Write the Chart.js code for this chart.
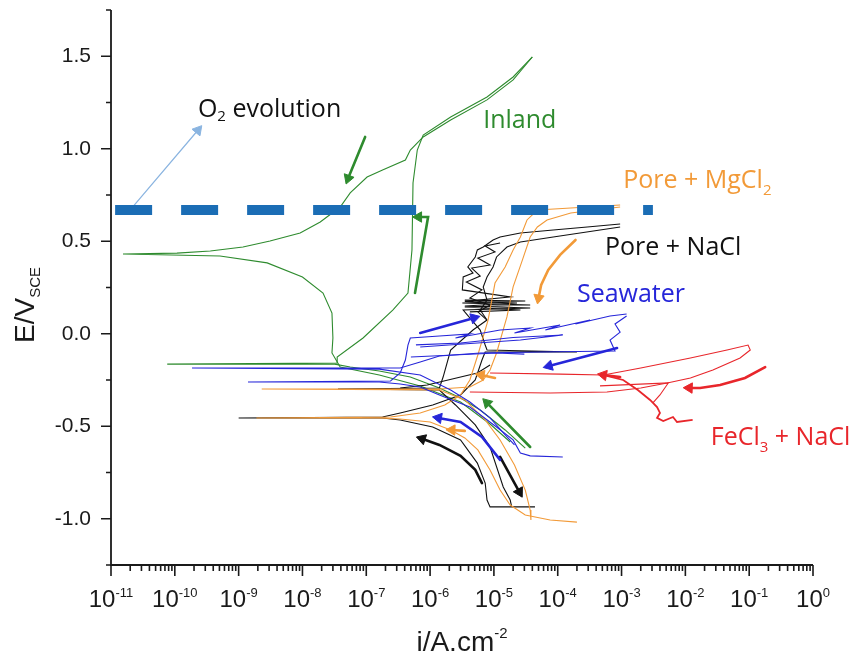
<!DOCTYPE html>
<html>
<head>
<meta charset="utf-8">
<script src="https://cdn.jsdelivr.net/npm/chart.js@4.4.0/dist/chart.umd.js"></script>
<style>
    html, body { margin: 0; padding: 0; background: #fff; }
    canvas { display: block; }
</style>
</head>
<body>
<canvas id="chart" width="865" height="659"></canvas>
<script>
// axes
const xDecades = [1e-11, 1e-10, 1e-9, 1e-8, 1e-7, 1e-6, 1e-5, 1e-4, 1e-3, 1e-2, 1e-1, 1];
const xExponents = ['-11', '-10', '-9', '-8', '-7', '-6', '-5', '-4', '-3', '-2', '-1', '0'];
const xMinorFactors = [2, 3, 4, 5, 6, 7, 8, 9];
const yMajor = [-1.0, -0.5, 0, 0.5, 1.0, 1.5];
const yMajorLabels = ['-1.0', '-0.5', '0.0', '0.5', '1.0', '1.5'];
const yMinor = [-1.25, -0.75, -0.25, 0.25, 0.75, 1.25, 1.75];

// [i (A/cm2), E (V vs SCE)]
const o2Line = [[1.16e-11, 0.669], [3.1e-3, 0.669]];
const o2Pointer = [[2.0e-11, 0.669], [2.3e-10, 1.10]];

const inlandForward = [[3.1e-5, -0.618], [1.5e-5, -0.52], [6.1e-6, -0.412], [3.0e-6, -0.347], [1.4e-6, -0.293],
    [4.9e-7, -0.234], [1.6e-7, -0.201], [5.6e-8, -0.18], [3.2e-8, -0.164], [7.6e-11, -0.164], [3.5e-8, -0.158],
    [3.5e-8, -0.126], [8.9e-8, -0.023], [2.6e-7, 0.128], [4.5e-7, 0.22], [5.2e-7, 0.453], [5.4e-7, 0.815],
    [6.3e-7, 0.993], [7.8e-7, 1.074], [2.1e-6, 1.172], [7.8e-6, 1.28], [2.0e-5, 1.388], [4.0e-5, 1.496]];
const inlandReverse = [[4.0e-5, 1.496], [2.0e-5, 1.372], [7.8e-6, 1.264], [2.1e-6, 1.155], [7.8e-7, 1.064],
    [4.9e-7, 0.993], [4.1e-7, 0.939], [1.8e-7, 0.885], [1.03e-7, 0.847], [5.6e-8, 0.761], [3.9e-8, 0.685],
    [1.9e-8, 0.604], [9.2e-9, 0.545], [3.1e-9, 0.501], [1.17e-9, 0.469], [3.6e-10, 0.447], [1.08e-10, 0.436],
    [1.54e-11, 0.431], [5.1e-10, 0.42], [2.8e-9, 0.383], [1.0e-8, 0.307], [2.1e-8, 0.22], [2.9e-8, 0.112],
    [3.0e-8, -0.023], [2.9e-8, -0.104], [3.9e-8, -0.18], [1.6e-7, -0.223], [7.0e-7, -0.282], [3.0e-6, -0.369],
    [8.7e-6, -0.488], [1.8e-5, -0.585]];
const inlandArrowTop = [[9.6e-8, 1.064], [5.2e-8, 0.84]];
const inlandArrowMid = [[5.8e-7, 0.22], [9.3e-7, 0.631], [6.6e-7, 0.631]];
const inlandArrowLow = [[3.7e-5, -0.612], [7.8e-6, -0.374]];

const nacl1Forward = [[4.4e-5, -0.936], [8.7e-6, -0.936], [7.8e-6, -0.899], [7.3e-6, -0.807], [5.5e-6, -0.699],
    [3.0e-6, -0.574], [1.1e-6, -0.504], [3.4e-7, -0.466], [1.8e-7, -0.455], [1.0e-9, -0.455], [1.8e-7, -0.45],
    [3.4e-7, -0.428], [1.1e-6, -0.385], [3.0e-6, -0.331], [5.1e-6, -0.25], [6.5e-6, -0.142], [7.3e-6, -0.099],
    [2.0e-4, -0.099], [7.8e-6, -0.088], [7.3e-6, -0.061], [6.1e-6, 0.02], [3.3e-6, 0.128], [3.7e-5, 0.139],
    [3.5e-6, 0.15], [2.3e-5, 0.166], [3.5e-6, 0.175], [1.8e-5, 0.199], [3.2e-6, 0.237], [3.3e-6, 0.307],
    [4.7e-6, 0.328], [3.9e-6, 0.361], [5.1e-6, 0.415], [5.5e-6, 0.453], [6.8e-6, 0.469], [9.7e-6, 0.507],
    [1.25e-5, 0.523], [2.6e-5, 0.545], [8.5e-5, 0.561], [2.9e-4, 0.577], [9.5e-4, 0.593]];
const nacl1Reverse = [[9.5e-4, 0.577], [8.5e-5, 0.523], [2.6e-5, 0.496], [1.6e-5, 0.469], [1.1e-5, 0.415],
    [9.7e-6, 0.361], [7.8e-6, 0.307], [6.8e-6, 0.253], [7.8e-6, 0.182], [6.1e-6, 0.128], [7.8e-6, 0.074],
    [4.7e-6, 0.02], [2.1e-6, -0.088], [1.6e-6, -0.234], [1.4e-6, -0.293], [3.6e-8, -0.299], [1.4e-6, -0.304],
    [2.5e-6, -0.385], [5.1e-6, -0.493], [8.7e-6, -0.612], [1.4e-5, -0.828], [1.8e-5, -0.899], [1.9e-5, -0.936]];
const nacl1Noise = [[7.8e-6, 0.074], [5.6e-6, 0.118], [8.7e-6, 0.155], [4.2e-6, 0.193], [6.5e-6, 0.237],
    [3.7e-6, 0.28], [6.1e-6, 0.312], [4.5e-6, 0.355], [8.7e-6, 0.372], [5.6e-6, 0.409], [1.04e-5, 0.442],
    [7.3e-6, 0.474], [1.25e-5, 0.491]];
const nacl1Spikes = [[3.5e-6, 0.182], [3.1e-5, 0.177], [3.2e-6, 0.166], [3.7e-5, 0.155], [3.5e-6, 0.145],
    [2.6e-5, 0.128], [4.2e-6, 0.118]];
const nacl1Branch = [[3.4e-7, -0.293], [9.0e-7, -0.277], [5.5e-6, -0.212], [8.7e-6, -0.169]];
const naclArrowA = [[6.5e-6, -0.807], [5.1e-6, -0.736], [3.0e-6, -0.66], [1.4e-6, -0.601], [7.5e-7, -0.568]];
const naclArrowB = [[1.25e-5, -0.666], [2.5e-5, -0.855]];

const mgForward = [[2.0e-4, -1.018], [7.6e-5, -1.007], [3.1e-5, -0.98], [1.8e-5, -0.926], [1.25e-5, -0.845],
    [8.7e-6, -0.736], [5.6e-6, -0.628], [3.5e-6, -0.563], [2.1e-6, -0.52], [1.0e-6, -0.477], [3.4e-7, -0.461],
    [1.6e-7, -0.455], [1.9e-9, -0.455], [2.4e-7, -0.45], [7.0e-7, -0.428], [1.7e-6, -0.385], [3.0e-6, -0.331],
    [4.2e-6, -0.25], [5.6e-6, -0.115], [8.1e-6, 0.074], [1.04e-5, 0.274], [1.5e-5, 0.361], [2.0e-5, 0.453],
    [2.6e-5, 0.523], [3.3e-5, 0.615], [4.8e-5, 0.669], [1.6e-4, 0.68], [9.5e-4, 0.696]];
const mgReverse = [[9.5e-4, 0.685], [1.6e-4, 0.653], [6.8e-5, 0.615], [4.8e-5, 0.577], [3.7e-5, 0.523],
    [2.8e-5, 0.399], [2.0e-5, 0.253], [1.6e-5, 0.091], [1.1e-5, -0.104], [8.7e-6, -0.196], [6.8e-6, -0.25],
    [4.2e-6, -0.288], [1.4e-6, -0.299], [2.3e-9, -0.299], [1.4e-6, -0.304], [3.5e-6, -0.358], [7.3e-6, -0.466],
    [1.25e-5, -0.574], [2.1e-5, -0.709], [3.1e-5, -0.845], [3.7e-5, -0.953], [3.8e-5, -1.007]];
const mgArrowA = [[1.9e-4, 0.507], [1.09e-4, 0.426], [7.1e-5, 0.345], [5.5e-5, 0.264], [5.0e-5, 0.193]];
const mgArrowB = [[1.04e-5, -0.239], [6.3e-6, -0.223]];
const mgArrowC = [[3.5e-6, -0.525], [2.2e-6, -0.52]];

const seaForward = [[1.2e-4, -0.666], [3.7e-5, -0.66], [2.6e-5, -0.645], [2.0e-5, -0.574], [1.1e-5, -0.504],
    [4.2e-6, -0.396], [1.4e-6, -0.331], [7.0e-7, -0.288], [3.4e-7, -0.272], [1.6e-7, -0.261], [1.4e-9, -0.261],
    [2.4e-7, -0.255], [3.4e-7, -0.212], [4.1e-7, -0.142], [4.5e-7, -0.061], [4.9e-7, -0.023], [1.4e-6, -0.012],
    [4.2e-6, -0.001], [2.5e-6, -0.023], [1.25e-5, 0.02], [3.7e-5, 0.031], [2.1e-5, 0.004], [1.09e-4, 0.047],
    [6.4e-5, 0.02], [3.2e-4, 0.074], [1.9e-4, 0.053], [6.6e-4, 0.096], [1.2e-3, 0.107]];
const seaReverse = [[1.2e-3, 0.096], [7.9e-4, 0.053], [9.5e-4, 0.009], [6.6e-4, -0.034], [7.9e-4, -0.093],
    [5.3e-5, -0.099], [6.1e-6, -0.104], [1.4e-6, -0.12], [7.0e-7, -0.153], [3.4e-7, -0.185], [1.6e-7, -0.185],
    [1.86e-10, -0.185], [1.6e-7, -0.191], [7.0e-7, -0.223], [2.1e-6, -0.304], [4.2e-6, -0.369], [8.7e-6, -0.455],
    [1.5e-5, -0.547], [2.1e-5, -0.601]];
const seaBand = [[7.0e-7, -0.072], [2.6e-5, -0.034], [1.2e-4, -0.007], [2.0e-5, -0.02], [3.0e-6, -0.05], [6.0e-7, -0.06]];
const seaBand2 = [[5.0e-7, -0.126], [1.1e-5, -0.104], [3.0e-5, -0.11]];
const seaArrowA = [[7.0e-7, 0.004], [4.9e-6, 0.085]];
const seaArrowB = [[8.5e-4, -0.077], [7.3e-5, -0.174]];
const seaArrowC = [[1.25e-5, -0.682], [6.5e-6, -0.558], [3.0e-6, -0.477], [1.35e-6, -0.455]];

const feLoop = [[4.2e-6, -0.315], [7.6e-5, -0.32], [5.9e-4, -0.315], [2.0e-3, -0.293], [5.2e-3, -0.266],
    [1.2e-2, -0.239], [2.7e-2, -0.196], [7.2e-2, -0.131], [0.104, -0.088], [9.6e-2, -0.061], [4.5e-2, -0.088],
    [1.2e-2, -0.131], [2.0e-3, -0.185], [5.2e-4, -0.223], [1.09e-4, -0.218], [8.7e-6, -0.212]];
const feCross = [[5.9e-4, -0.228], [1.06e-3, -0.25], [1.8e-3, -0.304], [2.8e-3, -0.358], [3.6e-3, -0.396],
    [4.0e-3, -0.428], [3.6e-3, -0.455], [4.5e-3, -0.472], [6.4e-3, -0.45], [7.4e-3, -0.477], [1.3e-2, -0.466]];
const feBranch = [[4.6e-4, -0.282], [5.4e-3, -0.266], [4.0e-3, -0.331], [3.1e-3, -0.374]];
const feArrowA = [[0.178, -0.18], [8.6e-2, -0.239], [3.5e-2, -0.277], [1.7e-2, -0.293], [1.15e-2, -0.293]];
const feArrowB = [[9.5e-4, -0.234], [5.2e-4, -0.223]];

const GREEN = '#2e8b2e', ORANGE = '#f29a38', BLACK = '#111111', BLUE = '#2626d9', RED = '#e8262b';

const notes = [
    { at: [2.3e-10, 1.172], parts: [['O', 0], ['2', 1], [' evolution', 0]], color: '#111', drop: 4 },
    { at: [6.8e-6, 1.112], parts: [['Inland', 0]], color: GREEN },
    { at: [1.06e-3, 0.788], parts: [['Pore + MgCl', 0], ['2', 1]], color: ORANGE },
    { at: [5.5e-4, 0.426], parts: [['Pore + NaCl', 0]], color: BLACK },
    { at: [2.0e-4, 0.172], parts: [['Seawater', 0]], color: BLUE },
    { at: [2.5e-2, -0.601], parts: [['FeCl', 0], ['3', 1], [' + NaCl', 0]], color: RED },
];

const pts = (arr) => arr.map(([i, e]) => ({ x: i, y: e }));
const curve = (arr, color, width = 1.1) => ({ data: pts(arr), borderColor: color, borderWidth: width, pointRadius: 0, showLine: true, tension: 0 });
const arrow = (arr, color, rot, width = 2.6, size = 6) => ({
    ...curve(arr, color, width), borderCapStyle: 'round', pointStyle: 'triangle',
    pointRadius: arr.map((_, k) => (k === arr.length - 1 ? size : 0)), pointRotation: rot,
    pointBackgroundColor: color, pointBorderColor: color, pointBorderWidth: 1,
});

function rich(ctx, x, y, parts, size, family, color, opts = {}) {
    const ratio = opts.ratio || 0.6, drop = opts.drop ?? size * 0.3, rise = opts.rise ?? size * 0.42;
    const fonts = parts.map(([, m]) => `${m ? Math.round(size * ratio) : size}px ${family}`);
    const widths = parts.map(([t], k) => { ctx.font = fonts[k]; return ctx.measureText(t).width; });
    let cx = opts.center ? x - widths.reduce((a, b) => a + b, 0) / 2 : x;
    ctx.fillStyle = color; ctx.textAlign = 'left'; ctx.textBaseline = 'alphabetic';
    parts.forEach(([t, m], k) => {
        ctx.font = fonts[k];
        ctx.fillText(t, cx, y + (m === 1 ? drop : m === 2 ? -rise : 0));
        cx += widths[k];
    });
}

const frame = {
    id: 'frame',
    afterDatasetsDraw(chart) {
        const { ctx, chartArea: a, scales: { x, y } } = chart;
        ctx.save();
        ctx.strokeStyle = '#1a1a1a'; ctx.lineWidth = 1.8;
        ctx.beginPath(); ctx.moveTo(a.left, a.top); ctx.lineTo(a.left, a.bottom); ctx.lineTo(a.right, a.bottom); ctx.stroke();
        ctx.lineWidth = 1.6;
        ctx.beginPath();
        yMajor.forEach((v) => { const p = y.getPixelForValue(v); ctx.moveTo(a.left - 10, p); ctx.lineTo(a.left, p); });
        yMinor.forEach((v) => { const p = y.getPixelForValue(v); ctx.moveTo(a.left - 5, p); ctx.lineTo(a.left, p); });
        xDecades.forEach((d, k) => {
            const p = x.getPixelForValue(d); ctx.moveTo(p, a.bottom); ctx.lineTo(p, a.bottom + 11);
            if (k < xDecades.length - 1) xMinorFactors.forEach((f) => {
                const q = x.getPixelForValue(d * f); ctx.moveTo(q, a.bottom); ctx.lineTo(q, a.bottom + 6);
            });
        });
        ctx.stroke();

        ctx.fillStyle = '#1a1a1a'; ctx.font = '21px "Liberation Sans", Arial, sans-serif';
        ctx.textAlign = 'right'; ctx.textBaseline = 'middle';
        yMajor.forEach((v, k) => ctx.fillText(yMajorLabels[k], a.left - 20, y.getPixelForValue(v)));
        xDecades.forEach((d, k) => rich(ctx, x.getPixelForValue(d), a.bottom + 42, [['10', 0], [xExponents[k], 2]],
            24, '"Liberation Sans", Arial, sans-serif', '#1a1a1a', { center: true, ratio: 0.55, rise: 10 }));

        rich(ctx, (a.left + a.right) / 2, a.bottom + 86, [['i/A.cm', 0], ['-2', 2]], 28,
            '"Liberation Sans", Arial, sans-serif', '#1a1a1a', { center: true, ratio: 0.55, rise: 13 });
        ctx.save();
        ctx.translate(34, 305); ctx.rotate(-Math.PI / 2);
        rich(ctx, 0, 0, [['E/V', 0], ['SCE', 1]], 28, '"Liberation Sans", Arial, sans-serif', '#1a1a1a',
            { center: true, ratio: 0.55, drop: 6 });
        ctx.restore();

        notes.forEach((n) => rich(ctx, x.getPixelForValue(n.at[0]), y.getPixelForValue(n.at[1]), n.parts, 25,
            '"Open Sans", sans-serif', n.color, n.drop ? { drop: n.drop } : {}));
        ctx.restore();
    },
};

new Chart(document.getElementById('chart'), {
    type: 'scatter',
    data: {
        datasets: [
            { ...curve(o2Line, '#1b6db5', 10), borderDash: [37, 29], borderCapStyle: 'butt' },
            arrow(o2Pointer, '#8ab4e0', 40, 1.2, 6),
            curve(feLoop, RED), curve(feBranch, RED), curve(feCross, RED, 1.8),
            arrow(feArrowA, RED, 272), arrow(feArrowB, RED, 280),
            curve(seaForward, BLUE), curve(seaReverse, BLUE), curve(seaBand, BLUE), curve(seaBand2, BLUE),
            arrow(seaArrowA, BLUE, 74), arrow(seaArrowB, BLUE, 255), arrow(seaArrowC, BLUE, 280),
            curve(mgForward, ORANGE), curve(mgReverse, ORANGE),
            arrow(mgArrowA, ORANGE, 190), arrow(mgArrowB, ORANGE, 280), arrow(mgArrowC, ORANGE, 272),
            curve(nacl1Forward, BLACK), curve(nacl1Reverse, BLACK), curve(nacl1Branch, BLACK),
            curve(nacl1Noise, BLACK), curve(nacl1Spikes, BLACK),
            arrow(naclArrowA, BLACK, 288), arrow(naclArrowB, BLACK, 151),
            curve(inlandForward, GREEN), curve(inlandReverse, GREEN),
            arrow(inlandArrowTop, GREEN, 200), arrow(inlandArrowMid, GREEN, 270), arrow(inlandArrowLow, GREEN, 315),
        ],
    },
    options: {
        responsive: false,
        animation: false,
        devicePixelRatio: 1,
        layout: { padding: { left: 111, top: 10, right: 52, bottom: 94 } },
        plugins: { legend: { display: false }, tooltip: { enabled: false } },
        scales: {
            x: { type: 'logarithmic', min: 1e-11, max: 1, display: false },
            y: { type: 'linear', min: -1.25, max: 1.75, display: false },
        },
    },
    plugins: [frame],
});
</script>
</body>
</html>
